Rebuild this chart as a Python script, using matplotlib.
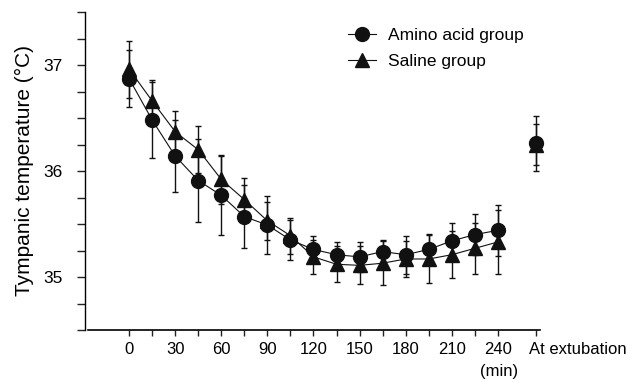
import numpy as np
import matplotlib
matplotlib.use('Agg')
import matplotlib.pyplot as plt
import matplotlib.transforms as mtransforms

plt.rcParams['font.family'] = ['Liberation Sans', 'DejaVu Sans']

# time points (min); last one = at extubation
time_min = [0, 15, 30, 45, 60, 75, 90, 105, 120, 135, 150, 165, 180, 195, 210, 225, 240]
extubation_x = 265

amino_mean = [36.87, 36.48, 36.14, 35.91, 35.77, 35.57, 35.49, 35.35, 35.26, 35.21, 35.19,
              35.24, 35.21, 35.26, 35.34, 35.40, 35.44]
amino_sd = [0.27, 0.36, 0.34, 0.39, 0.37, 0.30, 0.27, 0.19, 0.13, 0.12, 0.14,
            0.11, 0.18, 0.15, 0.17, 0.19, 0.24]
amino_ext_mean = 36.26
amino_ext_sd = 0.26

saline_mean = [36.96, 36.66, 36.37, 36.20, 35.92, 35.73, 35.53, 35.39, 35.19, 35.12, 35.11,
               35.13, 35.17, 35.17, 35.21, 35.27, 35.33]
saline_sd = [0.27, 0.20, 0.20, 0.22, 0.23, 0.20, 0.18, 0.17, 0.16, 0.17, 0.18,
             0.21, 0.17, 0.23, 0.22, 0.24, 0.30]
saline_ext_mean = 36.25
saline_ext_sd = 0.19

xtick_pos = list(range(0, 241, 15)) + [extubation_x]
xtick_lab = [str(t) if t % 30 == 0 else '' for t in range(0, 241, 15)] + ['At extubation']
ytick_pos = np.arange(34.5, 37.51, 0.25)
ytick_lab = [str(int(v)) if v in (35, 36, 37) else '' for v in ytick_pos]

fig = plt.figure(figsize=(6.44, 3.82), dpi=100)
ax = fig.add_axes([88.5 / 644, 1 - 330 / 382, (540 - 88.5) / 644, (330 - 12) / 382])

ink = '#111111'
for mean, sd, em, esd, mk, ms, lab in [
        (saline_mean, saline_sd, saline_ext_mean, saline_ext_sd, '^', 10.5, 'Saline group'),
        (amino_mean, amino_sd, amino_ext_mean, amino_ext_sd, 'o', 10, 'Amino acid group')]:
    ax.errorbar(time_min, mean, yerr=sd, fmt='none', ecolor=ink, elinewidth=1,
                capsize=2.5, capthick=1, zorder=2)
    ax.plot(time_min, mean, color=ink, lw=0.8, marker=mk, ms=ms, mfc=ink, mec=ink,
            label=lab, zorder=3)
    ext = ax.errorbar([extubation_x], [em], yerr=[esd], fmt=mk, ms=ms, color=ink, ecolor=ink,
                      elinewidth=1, capsize=2.5, capthick=1, zorder=3)
    for art in ext.get_children():
        art.set_clip_on(False)

ax.set_xlim(-26.5, 267.5)
ax.set_ylim(34.5, 37.5)
ax.set_xticks(xtick_pos)
ax.set_xticklabels(xtick_lab)
ax.set_yticks(ytick_pos)
ax.set_yticklabels(ytick_lab)
ax.tick_params(axis='x', length=4, width=1, pad=5, color='#222222', labelsize=12)
ax.tick_params(axis='y', length=6, width=1, pad=10, color='#222222', labelsize=12.5)

# shift the "At extubation" label so it starts at the tick
ext_label = ax.get_xticklabels()[-1]
ext_label.set_ha('left')
ext_label.set_transform(ext_label.get_transform() +
                        mtransforms.ScaledTranslation(-7 / 100, 0, fig.dpi_scale_trans))

ax.text(241, -0.108, '(min)', transform=ax.get_xaxis_transform(), ha='center', va='top',
        fontsize=12)

for s in ['top', 'right']:
    ax.spines[s].set_visible(False)
ax.spines['left'].set_position(('outward', 2.5))
ax.spines['left'].set_linewidth(1)
ax.spines['bottom'].set_linewidth(1.2)

ax.set_ylabel('Tympanic temperature (°C)', fontsize=15, labelpad=7)

handles, labels = ax.get_legend_handles_labels()
ax.legend(handles[::-1], labels[::-1], loc='upper left', bbox_to_anchor=(0.54, 1.0),
          frameon=False, fontsize=12.5, handlelength=1.6, handletextpad=0.7,
          labelspacing=0.65, markerscale=1.0)

fig.savefig('out.png', dpi=100)
